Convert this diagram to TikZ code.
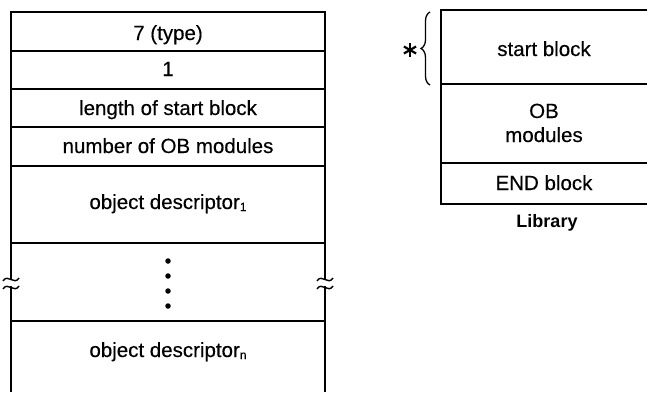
\documentclass[tikz,border=0pt]{standalone}
\usepackage{fontspec}
\setmainfont{Liberation Sans}
\newfontfamily\lblfont{Liberation Sans}[FakeBold=0.3]
\usetikzlibrary{decorations.pathreplacing,calc}
\tikzset{
  rule/.style={line width=1.4bp, black},
  lbl/.style={font=\lblfont\fontsize{20.5bp}{24bp}\selectfont, inner sep=0pt, anchor=base},
  dot/.style={circle, fill=black, inner sep=0pt, minimum size=5.5bp},
  brk/.style={line width=1.4bp},
}
\newcommand{\sbs}[1]{\raisebox{-2bp}{\fontsize{12bp}{12bp}\selectfont #1}}
\begin{document}
\begin{tikzpicture}[x=1bp,y=-1bp]
\useasboundingbox (0,0) rectangle (647,392);
% left record
\draw[rule] (11,279) -- (11,12) -- (325,12) -- (325,279);
\draw[rule] (11,286) -- (11,392);
\draw[rule] (325,286) -- (325,392);
\foreach \yy in {51,89,127,166,243,321} \draw[rule] (11,\yy) -- (325,\yy);
% break marks
\foreach \xx in {11,325}{
  \draw[brk] (\xx-8,281) .. controls (\xx-3,273) and (\xx+3,286) .. (\xx+8,278);
  \draw[brk] (\xx-8,289) .. controls (\xx-3,281) and (\xx+3,294) .. (\xx+8,286);
}
\node[lbl] (t1) at (168,40) {7 (type)};
\node[lbl] (t2) at (168,76) {1};
\node[lbl] (t3) at (168,115) {length of start block};
\node[lbl] (t4) at (168,153) {number of OB modules};
\node[lbl] (t5) at (168,209) {object descriptor\sbs{1}};
\node[dot] (d1) at (168,261) {};
\node[dot] (d2) at (168,276) {};
\node[dot] (d3) at (168,291) {};
\node[dot] (d4) at (168,306) {};
\node[lbl] (t6) at (168,357) {object descriptor\sbs{n}};
% library
\draw[rule] (647,10) -- (441,10) -- (441,204) -- (647,204);
\foreach \yy in {84,163} \draw[rule] (441,\yy) -- (647,\yy);
\node[lbl] (l1) at (544,56) {start block};
\node[lbl] (l2) at (544,118) {OB};
\node[lbl] (l2b) at (544,142) {modules};
\node[lbl] (l3) at (544,190) {END block};
\node[font=\bfseries\fontsize{18bp}{20bp}\selectfont, inner sep=0pt, anchor=base] (lib) at (547,227) {Library};
\draw[line width=1.3bp, decorate, decoration={brace, amplitude=9bp}] (430,85) -- (430,12);
\coordinate (star) at (410,50);
\foreach \a in {90,30,-30}
  \draw[line width=2.2bp] ($(star)+(\a:7)$) -- ($(star)+(\a+180:7)$);
\end{tikzpicture}
\end{document}
